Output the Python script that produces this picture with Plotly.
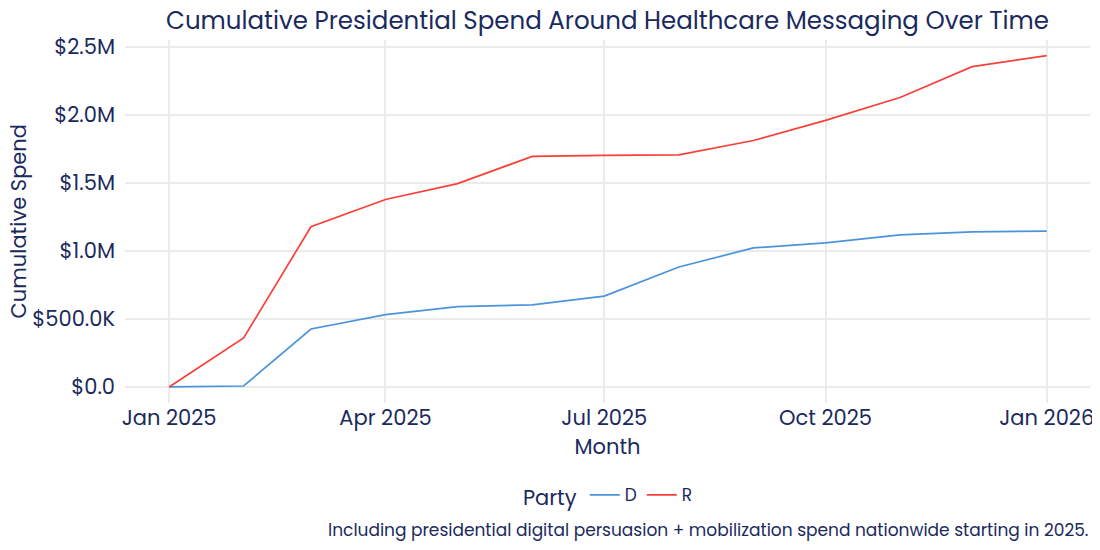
import plotly.graph_objects as go

months = ["2025-01-01", "2025-02-01", "2025-03-01", "2025-04-01", "2025-05-01", "2025-06-01",
          "2025-07-01", "2025-08-01", "2025-09-01", "2025-10-01", "2025-11-01", "2025-12-01", "2026-01-01"]
spend_d = [0, 7000, 426000, 532000, 590000, 604000, 668000, 882000, 1022000, 1059000, 1118000, 1140000, 1146000]
spend_r = [0, 360000, 1178000, 1378000, 1495000, 1695000, 1702000, 1706000, 1812000, 1960000, 2128000, 2355000, 2436000]

y_tickvals = [0, 500000, 1000000, 1500000, 2000000, 2500000]
y_ticktext = ["$0.0", "$500.0K", "$1.0M", "$1.5M", "$2.0M", "$2.5M"]
x_tickvals = ["2025-01-01", "2025-04-01", "2025-07-01", "2025-10-01", "2026-01-01"]
x_ticktext = ["Jan 2025", "Apr 2025", "Jul 2025", "Oct 2025", "Jan 2026"]

navy = "#1B2A5E"
font_family = "Poppins, Open Sans, sans-serif"

fig = go.Figure()
fig.add_trace(go.Scatter(x=months, y=spend_d, mode="lines", name="D",
                         line=dict(color="#4A94DC", width=1.7)))
fig.add_trace(go.Scatter(x=months, y=spend_r, mode="lines", name="R",
                         line=dict(color="#F8403A", width=1.7)))

fig.update_layout(
    width=1092, height=542,
    template="plotly_white",
    paper_bgcolor="white", plot_bgcolor="white",
    font=dict(family=font_family, color=navy, size=18),
    margin=dict(l=117, r=10, t=32, b=147, autoexpand=False),
    title=dict(text="Cumulative Presidential Spend Around Healthcare Messaging Over Time",
               x=0.549, xanchor="center", y=0.977, yanchor="middle",
               font=dict(size=24.5, color=navy)),
    legend=dict(orientation="h", x=0.502, xanchor="center", y=-0.257, yanchor="middle",
                title=dict(text="Party", font=dict(size=21)), font=dict(size=17)),
    annotations=[
        dict(text="Including presidential digital persuasion + mobilization spend nationwide starting in 2025.",
             xref="paper", yref="paper", x=1.0, y=-0.35, xanchor="right", yanchor="middle",
             showarrow=False, font=dict(size=17, color=navy)),
        dict(text="Cumulative Spend", textangle=-90,
             xref="paper", yref="paper", x=0, y=0.5, xanchor="center", yanchor="middle",
             xshift=-107, showarrow=False, font=dict(size=21, color=navy)),
    ],
)
fig.update_xaxes(title=dict(text="Month", standoff=2, font=dict(size=21)),
                 tickvals=x_tickvals, ticktext=x_ticktext, tickfont=dict(size=21),
                 range=["2024-12-13 16:00", "2026-01-19"],
                 showgrid=True, gridcolor="#EBEBEB", gridwidth=2, zeroline=False, showline=False)
fig.update_yaxes(tickvals=y_tickvals, ticktext=y_ticktext, tickfont=dict(size=21),
                 ticklabelstandoff=9,
                 range=[-118000, 2551000],
                 showgrid=True, gridcolor="#EBEBEB", gridwidth=2, zeroline=False, showline=False)

fig.write_html("out.html")
